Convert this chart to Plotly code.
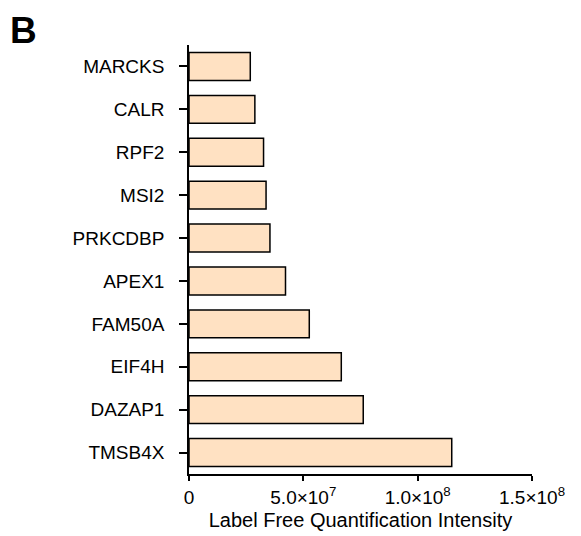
import plotly.graph_objects as go

genes = ["MARCKS", "CALR", "RPF2", "MSI2", "PRKCDBP", "APEX1", "FAM50A", "EIF4H", "DAZAP1", "TMSB4X"]
intensity = [2.68e7, 2.88e7, 3.26e7, 3.37e7, 3.54e7, 4.22e7, 5.26e7, 6.66e7, 7.62e7, 1.149e8]
tick_vals = [0, 5e7, 1e8, 1.5e8]
tick_text = ["0", "5.0×10<sup>7</sup>", "1.0×10<sup>8</sup>", "1.5×10<sup>8</sup>"]

# page body has an 8px margin, so the figure is drawn 8px right/down
W, H = 573, 528
ML, MR, MT, MB = 181, 49, 37, 62

fig = go.Figure(go.Bar(
    x=intensity, y=genes, orientation="h",
    marker=dict(color="#FFE1C2", line=dict(color="black", width=1.5)),
    width=0.65,
))

fig.update_layout(
    width=W, height=H,
    margin=dict(l=ML, r=MR, t=MT, b=MB, autoexpand=False),
    plot_bgcolor="white", paper_bgcolor="white",
    font=dict(family="Arial, Liberation Sans, sans-serif", size=19, color="black"),
    showlegend=False,
    xaxis=dict(
        range=[0, 1.5e8], tickvals=tick_vals, ticktext=tick_text,
        showline=True, linecolor="black", linewidth=1.5,
        ticks="outside", ticklen=5, tickwidth=1.5, tickcolor="black",
        showgrid=False, zeroline=False, tickfont=dict(size=19),
        title=dict(text="Label Free Quantification Intensity", standoff=6, font=dict(size=20)),
    ),
    yaxis=dict(
        categoryorder="array", categoryarray=genes, autorange=False,
        range=[9.5, -0.5],
        showline=True, linecolor="black", linewidth=1.5,
        ticks="outside", ticklen=8, tickwidth=1.5, tickcolor="black",
        showgrid=False, zeroline=False, ticklabelstandoff=11,
        tickfont=dict(size=19),
    ),
    annotations=[dict(text="<b>B</b>",
                      x=(0 - ML) / (W - ML - MR),
                      y=1 + (MT - 0) / (H - MT - MB),
                      xref="paper", yref="paper",
                      xanchor="left", yanchor="top", showarrow=False,
                      font=dict(size=37, color="black"))],
)

fig.write_html("out.html")
